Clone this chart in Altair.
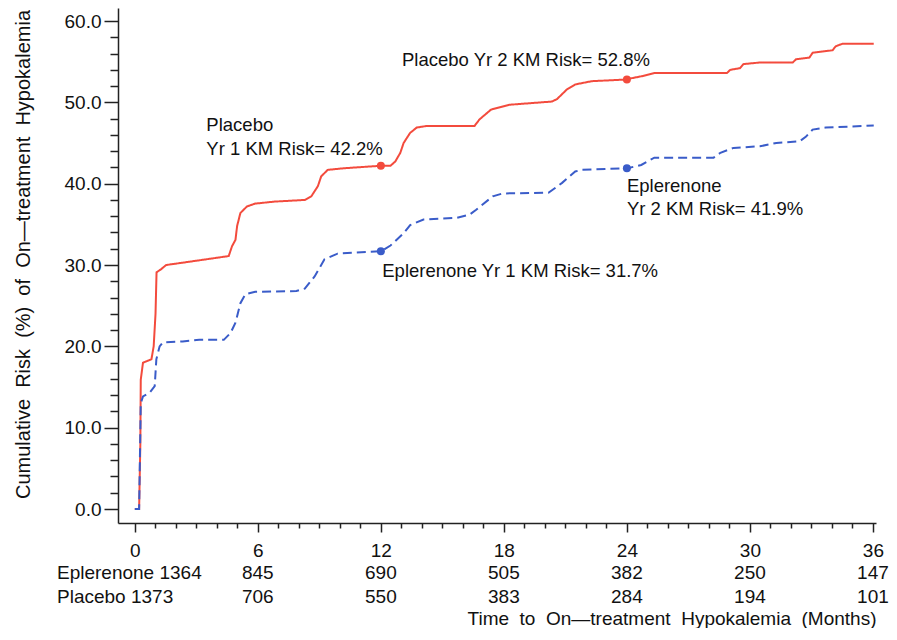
import altair as alt
import pandas as pd

# ---- Kaplan-Meier curves (months, cumulative risk %) ----
placebo_t = [0.0, 0.21, 0.27, 0.29, 0.40, 0.81, 0.92, 1.01, 1.06, 1.29, 1.53, 2.65, 4.58, 4.74,
             4.91, 4.99, 5.15, 5.47, 5.87, 6.84, 8.29, 8.61, 8.93, 9.09, 9.41, 10.22, 11.98,
             12.47, 12.71, 12.95, 13.11, 13.43, 13.75, 14.24, 16.57, 16.81, 17.37, 18.26,
             20.35, 20.59, 21.08, 21.48, 22.28, 23.89, 24.70, 25.34, 28.88, 29.04, 29.52,
             29.68, 30.49, 32.09, 32.25, 32.90, 33.06, 34.03, 34.19, 34.51, 36.04]
placebo_r = [0.0, 0.0, 8.0, 15.9, 18.0, 18.4, 20.0, 24.0, 29.1, 29.5, 30.0, 30.4, 31.1, 32.3,
             33.1, 34.8, 36.4, 37.2, 37.55, 37.8, 38.0, 38.45, 39.7, 40.9, 41.7, 41.9, 42.2,
             42.2, 42.75, 43.8, 45.0, 46.25, 46.9, 47.1, 47.1, 47.9, 49.1, 49.7,
             50.1, 50.4, 51.6, 52.2, 52.6, 52.8, 53.2, 53.6, 53.6, 54.0, 54.2,
             54.7, 54.9, 54.9, 55.3, 55.5, 56.1, 56.4, 56.9, 57.2, 57.2]

eplerenone_t = [0.0, 0.21, 0.29, 0.40, 0.72, 0.97, 1.05, 1.21, 1.37, 2.33, 3.14, 4.34, 4.67,
                4.91, 5.15, 5.39, 5.87, 7.88, 8.29, 8.77, 9.25, 9.89, 12.02, 12.47, 13.11,
                13.43, 14.08, 15.69, 16.33, 16.65, 17.46, 17.94, 20.19, 20.84, 21.48, 21.80,
                24.03, 24.70, 25.34, 28.23, 28.56, 29.20, 30.49, 31.29, 32.42, 32.74, 33.06,
                33.70, 36.04]
eplerenone_r = [0.0, 0.0, 13.0, 13.85, 14.3, 15.1, 18.4, 20.0, 20.5, 20.6, 20.8, 20.8, 21.65,
                22.9, 25.3, 26.4, 26.7, 26.8, 27.1, 28.6, 30.7, 31.4, 31.7, 32.4, 33.9,
                34.9, 35.6, 35.8, 36.2, 36.8, 38.45, 38.8, 38.9, 40.1, 41.5, 41.7,
                41.9, 42.3, 43.2, 43.2, 43.8, 44.4, 44.6, 45.0, 45.2, 45.8, 46.65,
                46.9, 47.15]

# ---- KM risk markers ----
marker_group = ["Placebo", "Placebo", "Eplerenone", "Eplerenone"]
marker_t = [12, 24, 12, 24]
marker_r = [42.2, 52.8, 31.7, 41.9]

# ---- annotation texts (anchored in data units) ----
note_text = ["Placebo", "Yr 1 KM Risk= 42.2%", "Placebo Yr 2 KM Risk= 52.8%",
             "Eplerenone Yr 1 KM Risk= 31.7%", "Eplerenone", "Yr 2 KM Risk= 41.9%"]
note_t = [3.49, 3.49, 13.03, 12.07, 24.0, 24.0]
note_r = [46.45, 43.58, 54.44, 28.54, 38.95, 36.2]

# ---- numbers at risk ----
risk_times = [6, 12, 18, 24, 30, 36]
eplerenone_n = [845, 690, 505, 382, 250, 147]
placebo_n = [706, 550, 383, 284, 194, 101]
row_labels = ["Eplerenone 1364", "Placebo 1373"]

RED = "#F34B3D"
BLUE = "#3A5CC9"
FONT = "Liberation Sans"
INK = "#111111"
GAP = " \u00a0"  # wide word gap as in the original

curves = pd.concat([
    pd.DataFrame({"t": placebo_t, "r": placebo_r, "g": "Placebo"}),
    pd.DataFrame({"t": eplerenone_t, "r": eplerenone_r, "g": "Eplerenone"}),
])
markers = pd.DataFrame({"t": marker_t, "r": marker_r, "g": marker_group})
notes = pd.DataFrame({"t": note_t, "r": note_r, "label": note_text})
epl_row = pd.DataFrame({"t": risk_times, "n": eplerenone_n})
pla_row = pd.DataFrame({"t": risk_times, "n": placebo_n})
epl_lab = pd.DataFrame({"label": [row_labels[0]]})
pla_lab = pd.DataFrame({"label": [row_labels[1]]})

W, H = 758, 515
ROW1, ROW2 = 571, 595

xscale = alt.Scale(domain=[-0.82, 36.15], nice=False, zero=False)
yscale = alt.Scale(domain=[-1.72, 61.6], nice=False, zero=False)
color = alt.Scale(domain=["Placebo", "Eplerenone"], range=[RED, BLUE])

xaxis = alt.Axis(
    values=list(range(0, 37)),
    labelExpr="datum.value % 6 === 0 ? datum.value : ''",
    tickSize={"condition": {"test": "datum.value % 6 === 0", "value": 9}, "value": 5},
    labelPadding=9, labelOverlap=False, labelFlush=False,
    title=GAP.join(["Time", "to", "On\u2014treatment", "Hypokalemia", "(Months)"]),
    titleX=W, titleY=101, titleAlign="right", titleBaseline="alphabetic",
    titleAnchor="end", titleFontSize=19,
)
yaxis = alt.Axis(
    values=list(range(0, 61, 2)),
    labelExpr="datum.value % 10 === 0 ? format(datum.value, '.1f') : ''",
    tickSize={"condition": {"test": "datum.value % 10 === 0", "value": 14}, "value": 8},
    labelPadding=3, labelOverlap=False, labelFlush=False,
    title=GAP.join(["Cumulative", "Risk", "(%)", "of", "On\u2014treatment", "Hypokalemia"]),
    titleX=-95, titleY=246, titleAlign="center", titleBaseline="middle", titleAngle=-90,
    titleFontSize=20,
)

x = alt.X("t:Q", scale=xscale, axis=xaxis)
y = alt.Y("r:Q", scale=yscale, axis=yaxis)

lines = alt.Chart(curves).mark_line(strokeWidth=2, interpolate="linear").encode(
    x=x, y=y,
    color=alt.Color("g:N", scale=color, legend=None),
    strokeDash=alt.StrokeDash("g:N", scale=alt.Scale(domain=["Placebo", "Eplerenone"],
                                                     range=[[1, 0], [9, 5]]), legend=None),
    detail="g:N",
)

dots = alt.Chart(markers).mark_point(filled=True, size=64, opacity=1).encode(
    x=x, y=y, color=alt.Color("g:N", scale=color, legend=None)
)

note_layer = alt.Chart(notes).mark_text(
    align="left", baseline="alphabetic", font=FONT, fontSize=18.5, color=INK
).encode(x=x, y=y, text="label:N")


def atrisk_layer(df, ypix):
    return alt.Chart(df).mark_text(
        align="center", baseline="alphabetic", font=FONT, fontSize=19, color=INK
    ).encode(x=x, y=alt.value(ypix), text="n:Q")


def rowlabel_layer(df, ypix):
    return alt.Chart(df).mark_text(
        align="left", baseline="alphabetic", font=FONT, fontSize=19, color=INK
    ).encode(x=alt.value(-61), y=alt.value(ypix), text="label:N")


chart = alt.layer(
    lines, dots, note_layer,
    atrisk_layer(epl_row, ROW1), atrisk_layer(pla_row, ROW2),
    rowlabel_layer(epl_lab, ROW1), rowlabel_layer(pla_lab, ROW2),
).properties(
    width=W, height=H,
    autosize=alt.AutoSizeParams(type="none"),
    padding={"left": 110, "top": 0, "right": 13, "bottom": 105},
).configure_view(stroke=None).configure_axis(
    grid=False, domainColor="#222222", domainWidth=1.5, tickColor="#222222", tickWidth=1.5,
    labelFont=FONT, labelFontSize=19, labelColor=INK,
    titleFont=FONT, titleFontSize=18, titleFontWeight="normal", titleColor=INK,
)

chart.save("out.html", embed_options={"renderer": "svg", "actions": False})
